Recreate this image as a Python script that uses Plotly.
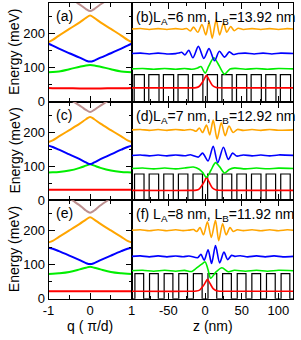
import plotly.graph_objects as go

# ---------------- data ----------------
# band structure (left panels): q in units of pi/d
q_pts = [-1, -0.9, -0.75, -0.5, -0.25, -0.1, 0, 0.1, 0.25, 0.5, 0.75, 0.9, 1]
q_brown = [-0.6, -0.4, -0.2, -0.1, 0, 0.1, 0.2, 0.4, 0.6]

red_a = [39.5, 39.4, 39.2, 38.9, 38.6, 38.5, 38.5, 38.5, 38.6, 38.9, 39.2, 39.4, 39.5]
green_a = [86.5, 86.8, 88.5, 95, 102.5, 106.3, 107.6, 106.3, 102.5, 95, 88.5, 86.8, 86.5]
blue_a = [170, 164.5, 155.5, 142, 129, 120.5, 117.5, 120.5, 129, 142, 155.5, 164.5, 170]
orange_a = [175, 181.5, 194, 213.5, 233, 246, 253, 246, 233, 213.5, 194, 181.5, 175]
brown_a = [316, 298, 281, 272, 266, 272, 281, 298, 316]

red_c = [31, 31, 30.9, 30.8, 30.6, 30.5, 30.5, 30.5, 30.6, 30.8, 30.9, 31, 31]
green_c = [81.7, 82, 83, 87, 95, 101.5, 105.5, 101.5, 95, 87, 83, 82, 81.7]
blue_c = [160.5, 156.5, 148.5, 134.5, 120.5, 111, 106, 111, 120.5, 134.5, 148.5, 156.5, 160.5]
orange_c = [171, 176, 187.5, 206, 225, 238, 244.5, 238, 225, 206, 187.5, 176, 171]
brown_c = [305, 289.5, 274, 265.5, 259.5, 265.5, 274, 289.5, 305]

red_e = [22.5, 22.5, 22.4, 22.2, 22, 22, 22, 22, 22, 22.2, 22.4, 22.5, 22.5]
green_e = [73, 73.5, 75, 79, 86.5, 91.5, 94, 91.5, 86.5, 79, 75, 73.5, 73]
blue_e = [150, 147, 140, 127, 113.5, 105, 102, 105, 113.5, 127, 140, 147, 150]
orange_e = [166, 170.5, 182, 201, 220.5, 233, 239.5, 233, 220.5, 201, 182, 170.5, 166]
brown_e = [304, 287.5, 270, 259.5, 253, 259.5, 270, 287.5, 304]

# superlattice parameters (right panels)
LA = [6, 7, 8]
LB = [13.92, 12.92, 11.92]
V_B = [79, 77, 74]

# wavefunctions (right panels), z in nm, offset by energy in meV
red_b_z = [-100, -20, -12, -7.8, -3.4, 0.1, 1.9, 5.4, 9.8, 14.2, 19, 30, 120]
red_b_E = [40.3, 40.3, 41, 45, 57.6, 71, 77, 64.4, 48, 42.3, 40.5, 40.3, 40.3]
green_b_z = [-100, -85, -70, -55, -40, -28, -18, -10, -5.6, 0.1, 5, 11.9, 19, 26.5, 34, 42, 55, 70, 85, 100, 120]
green_b_E = [96, 97.3, 94.8, 97.3, 94.8, 97.2, 94.8, 99, 102.8, 83.6, 104, 128.7, 106, 80.7, 96, 97.5, 94.8, 97.3, 94.8, 97.2, 96]
blue_b_z = [-100, -88, -76, -64, -52, -40, -36, -31.9, -27.5, -22.3, -16.6, -9.1, -1.6, 5.4, 12.9, 19.5,
            26.5, 33.1, 38.3, 44.9, 55, 67, 79, 91, 103, 120]
blue_b_E = [141.2, 142.5, 140, 142.5, 140, 141, 142.5, 145, 137, 150.8, 128.7, 162.3, 126.8, 155.6, 120.1, 147.9,
            130.6, 146, 138.3, 141.2, 142.5, 140, 142.5, 140, 142.5, 141.2]
orange_b_z = [-100, -88, -76, -64, -52, -40, -30, -25, -20.1, -15.7, -10, -4.3, 1, 5.4, 9.8, 15.1, 19.9, 25.2,
              29.6, 34.8, 39.7, 45, 52, 64, 76, 88, 100, 112, 120]
orange_b_E = [213.2, 214.7, 212, 214.5, 212, 214.5, 212.5, 215, 207.5, 219, 203.6, 226.7, 196, 232.5, 186.4, 240.1,
              196, 230.5, 203.6, 220.9, 208.4, 215.5, 212, 214.5, 212, 214.5, 212, 214.3, 213.2]

red_d_z = [-100, -20, -12, -7.8, -3.4, 0.1, 1.9, 5.4, 9.8, 14.2, 19, 30, 120]
red_d_E = [28.8, 28.8, 29.5, 33.5, 46, 59.5, 67.3, 53.5, 36.5, 30.8, 29, 28.8, 28.8]
green_d_z = [-100, -85, -70, -55, -40, -28, -16, -8, -3.4, 1.9, 8, 14.2, 20, 26.5, 33, 40, 55, 70, 85, 100, 120]
green_d_E = [93.2, 94.7, 92, 94.5, 92, 94.5, 97.5, 91, 81.7, 67.3, 88, 110.5, 98, 79.8, 90, 95, 92, 94.5, 92.2, 94.2, 93.2]
blue_d_z = [-100, -88, -76, -64, -52, -40, -28, -20, -16.6, -9, -3.4, 4.1, 11.1, 17.3, 25, 31.7, 37.5, 43,
            52, 64, 76, 88, 100, 120]
blue_d_E = [131.6, 133, 130.2, 133, 130.2, 133, 130.5, 133.5, 131.6, 126.8, 138.3, 115.3, 158.5, 110.5, 155.6,
            120.1, 138.4, 129.7, 133, 130.2, 133, 130.2, 133, 131.6]
orange_d_z = [-100, -88, -76, -64, -52, -40, -28, -20, -16.6, -12.2, -7.8, -3.4, 1.9, 6.3, 11.1, 16.4, 22.1,
              27.4, 32.6, 38.3, 44, 52, 64, 76, 88, 100, 120]
orange_d_E = [206.6, 208, 205.2, 208, 205.2, 208, 205.5, 208, 206.6, 202.7, 212.3, 198.9, 221, 192.1, 235.4,
              179.7, 227.7, 189.3, 218.1, 198.9, 208, 205.2, 208, 205.2, 208, 205.5, 206.6]

red_f_z = [-100, -20, -12, -7, -2.5, 1.2, 3.2, 6.5, 11, 15.5, 20, 30, 120]
red_f_E = [22.1, 22.1, 22.8, 26.5, 38, 51, 57.6, 46, 30, 24, 22.3, 22.1, 22.1]
green_f_z = [-100, -85, -70, -55, -40, -28, -18, -12.2, -5, 0.1, 4, 7.6, 15, 23, 31.7, 40, 55, 70, 85, 100, 120]
green_f_E = [82.6, 84, 81.2, 84, 81.2, 83.5, 80.5, 89.3, 101, 108.5, 86, 60.5, 79, 91.2, 79.7, 84, 81.2, 84,
             81.2, 84, 82.6]
blue_f_z = [-100, -88, -76, -64, -52, -40, -30, -22, -10, -5.6, -1.2, 4.1, 8.9, 14.2, 19.9, 25.7, 30.9, 36.1,
            40.5, 48, 58, 70, 82, 94, 106, 120]
blue_f_E = [124.8, 126.2, 123.4, 126.2, 123.4, 126, 123.5, 126, 121, 130.6, 113.3, 144, 103.7, 156.5, 105.6,
            137.3, 115.2, 127.7, 124.8, 126.5, 123.4, 126.2, 123.4, 126.2, 123.4, 124.8]
orange_f_z = [-100, -88, -76, -64, -52, -40, -30, -22, -15.7, -11.3, -6.9, -2.1, 3.2, 8.5, 14.2, 18.6, 23.9,
              28.7, 34, 38.3, 44, 52, 64, 76, 88, 100, 112, 120]
orange_f_E = [201.7, 203.2, 200.3, 203.2, 200.3, 203, 200.5, 202, 203.6, 197.9, 209.4, 188.2, 226.7, 180.6,
              230.5, 171, 220.9, 188.2, 209.4, 197.9, 203, 200.5, 203.2, 200.3, 203.2, 200.3, 203, 201.7]

panel_left = ["(a)", "(c)", "(e)"]
panel_right = ["(b)L<sub>A</sub>=6 nm, L<sub>B</sub>=13.92 nm",
               "(d)L<sub>A</sub>=7 nm, L<sub>B</sub>=12.92 nm",
               "(f) L<sub>A</sub>=8 nm, L<sub>B</sub>=11.92 nm"]

# ---------------- figure ----------------
W, H = 301, 340
ORANGE, BLUE, GREEN, RED, BROWN = "#FFA500", "#0000FF", "#00EE00", "#FF0000", "#BC8F8F"
FONT = "Liberation Sans, Arial, sans-serif"

bands = [
    (red_a, green_a, blue_a, orange_a, brown_a),
    (red_c, green_c, blue_c, orange_c, brown_c),
    (red_e, green_e, blue_e, orange_e, brown_e),
]
waves = [
    [(red_b_z, red_b_E), (green_b_z, green_b_E), (blue_b_z, blue_b_E), (orange_b_z, orange_b_E)],
    [(red_d_z, red_d_E), (green_d_z, green_d_E), (blue_d_z, blue_d_E), (orange_d_z, orange_d_E)],
    [(red_f_z, red_f_E), (green_f_z, green_f_E), (blue_f_z, blue_f_E), (orange_f_z, orange_f_E)],
]

fig = go.Figure()

xl = [44 / W, 130 / W]
xr = [130 / W, 297 / W]
rows_px = [(3, 104), (104, 205), (205, 306)]

for r in range(3):
    top, bot = rows_px[r]
    ydom = [1 - bot / H, 1 - top / H]
    il = 2 * r + 1
    ir = 2 * r + 2
    sl = "" if il == 1 else str(il)
    sr = str(ir)

    # left: bands
    rd, gr, bl, orc, br = bands[r]
    for vals, col in [(rd, RED), (gr, GREEN), (bl, BLUE), (orc, ORANGE)]:
        fig.add_trace(go.Scatter(x=q_pts, y=vals, mode="lines", line=dict(color=col, width=2, shape="spline"),
                                 xaxis="x" + sl, yaxis="y" + sl, showlegend=False, hoverinfo="skip"))
    fig.add_trace(go.Scatter(x=q_brown, y=br, mode="lines", line=dict(color=BROWN, width=2, shape="spline"),
                             xaxis="x" + sl, yaxis="y" + sl, showlegend=False, hoverinfo="skip"))

    # right: potential profile from LA, LB, V_B
    d = LA[r] + LB[r]
    pz, pv = [], []
    for k in range(-7, 8):
        w0 = k * d - LA[r] / 2
        w1 = k * d + LA[r] / 2
        b1 = (k + 1) * d - LA[r] / 2
        pz += [w0, w1, w1, b1, b1]
        pv += [0, 0, V_B[r], V_B[r], 0]
    fig.add_trace(go.Scatter(x=pz, y=pv, mode="lines", line=dict(color="black", width=1.2),
                             xaxis="x" + sr, yaxis="y" + sr, showlegend=False, hoverinfo="skip"))
    for (zz, ee), col in zip(waves[r], [RED, GREEN, BLUE, ORANGE]):
        fig.add_trace(go.Scatter(x=zz, y=ee, mode="lines", line=dict(color=col, width=1.6, shape="spline", smoothing=0.8),
                                 xaxis="x" + sr, yaxis="y" + sr, showlegend=False, hoverinfo="skip"))

    common = dict(showline=True, linecolor="black", linewidth=1, mirror="allticks", ticks="inside",
                  tickcolor="black", ticklen=6, tickwidth=1, showgrid=False, zeroline=False,
                  tickfont=dict(family=FONT, size=13, color="black"))
    fig.layout["xaxis" + sl] = dict(common, domain=xl, range=[-1, 1], anchor="y" + sl,
                                    tickmode="array", tickvals=[-1, 0, 1], ticktext=["-1", "0", "1"],
                                    showticklabels=(r == 2),
                                    minor=dict(dtick=0.5, tick0=0, ticks="inside", ticklen=4, tickcolor="black"))
    fig.layout["yaxis" + sl] = dict(common, domain=ydom, range=[0, 290], anchor="x" + sl,
                                    tickmode="array", tickvals=[0, 100, 200], ticktext=["0", "100", "200"],
                                    minor=dict(dtick=50, tick0=0, ticks="inside", ticklen=3, tickcolor="black"))
    fig.layout["xaxis" + sr] = dict(common, domain=xr, range=[-100, 120], anchor="y" + sr,
                                    tickmode="array", tickvals=[-50, 0, 50, 100], ticktext=["-50", "0", "50", "100"],
                                    showticklabels=(r == 2),
                                    minor=dict(dtick=25, tick0=0, ticks="inside", ticklen=3, tickcolor="black"))
    fig.layout["yaxis" + sr] = dict(showline=True, linecolor="black", linewidth=1, mirror=True, ticks="",
                                    showticklabels=False, showgrid=False, zeroline=False,
                                    domain=ydom, range=[0, 290], anchor="x" + sr)

annotations = []
label_y = [16, 118, 218]
for r in range(3):
    annotations.append(dict(text=panel_left[r], x=50 / W, y=1 - label_y[r] / H, xref="paper", yref="paper",
                            xanchor="left", yanchor="middle", showarrow=False,
                            font=dict(family=FONT, size=14, color="black")))
    annotations.append(dict(text=panel_right[r], x=132 / W, y=1 - (label_y[r] + 2) / H, xref="paper", yref="paper",
                            xanchor="left", yanchor="middle", showarrow=False,
                            font=dict(family=FONT, size=14, color="black")))
    cy = (rows_px[r][0] + rows_px[r][1]) / 2
    annotations.append(dict(text="Energy (meV)", x=9 / W, y=1 - cy / H, xref="paper", yref="paper",
                            xanchor="center", yanchor="middle", textangle=-90, showarrow=False,
                            font=dict(family=FONT, size=14, color="black")))
annotations.append(dict(text="q ( π/d)", x=87 / W, y=1 - 334 / H, xref="paper", yref="paper",
                        xanchor="center", yanchor="middle", showarrow=False,
                        font=dict(family=FONT, size=14, color="black")))
annotations.append(dict(text="z (nm)", x=214 / W, y=1 - 334 / H, xref="paper", yref="paper",
                        xanchor="center", yanchor="middle", showarrow=False,
                        font=dict(family=FONT, size=14, color="black")))

fig.update_layout(width=W, height=H, margin=dict(l=0, r=0, t=0, b=0), paper_bgcolor="white",
                  plot_bgcolor="white", annotations=annotations, showlegend=False)

fig.write_html("out.html", config={"displayModeBar": False},
               post_script="document.body.style.margin='0';document.body.style.overflow='hidden';")
